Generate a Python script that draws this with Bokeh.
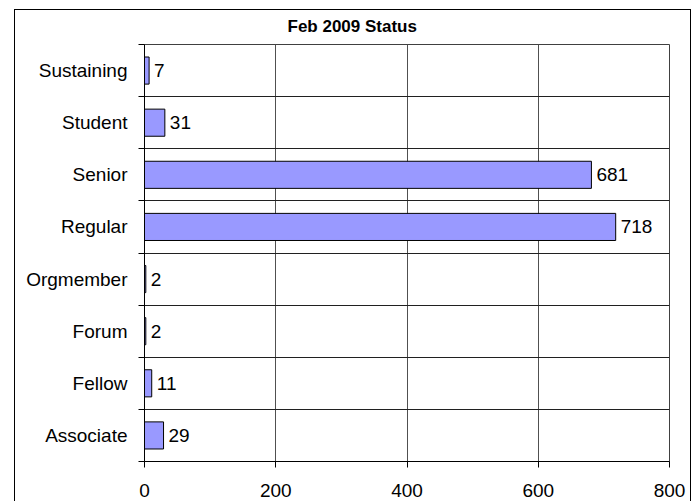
from bokeh.plotting import figure
from bokeh.models import Range1d, FixedTicker, ColumnDataSource
from bokeh.core.properties import value
from bokeh.embed import file_html
from bokeh.resources import INLINE

title_text = "Feb 2009 Status"
categories = ["Associate", "Fellow", "Forum", "Orgmember", "Regular", "Senior", "Student", "Sustaining"]
counts = [29, 11, 2, 2, 718, 681, 31, 7]
x_ticks = [0, 200, 400, 600, 800]

pos = [i + 0.5 for i in range(len(categories))]
src = ColumnDataSource(dict(y=pos, v=counts, lbl=[str(c) for c in counts]))

FONT = "Liberation Sans"

p = figure(width=692, height=501, output_backend="svg", toolbar_location=None,
           x_range=Range1d(0, 800), y_range=Range1d(0, len(categories)),
           min_border_left=144, min_border_right=23, min_border_top=44, min_border_bottom=40)
p.styles = {
    "background-color": "white",
    "background-image": "linear-gradient(black, black), linear-gradient(black, black), linear-gradient(black, black)",
    "background-position": "14px 9px, 14px 9px, 690px 9px",
    "background-size": "677px 1px, 1px 492px, 1px 492px",
    "background-repeat": "no-repeat",
}

p.title.text = title_text
p.title.align = "left"
p.title.offset = 143
p.title.text_font = FONT
p.title.text_font_size = "17px"
p.title.text_font_style = "bold"
p.title.text_color = "black"
p.title.standoff = 17

p.hbar(y="y", right="v", left=0, height=0.52, source=src,
       fill_color="#9999FF", line_color="black", line_width=1)
p.text(x="v", y="y", text="lbl", source=src, x_offset=5,
       text_font=value(FONT), text_font_size="19px", text_baseline="middle",
       text_align="left", text_color="black")

xa = p.xaxis[0]
xa.ticker = FixedTicker(ticks=x_ticks)
xa.major_tick_out = 6
xa.major_tick_in = 0
xa.minor_tick_out = 0
xa.minor_tick_in = 0
xa.axis_line_color = "black"
xa.major_tick_line_color = "black"
xa.major_label_text_font = FONT
xa.major_label_text_font_size = "19px"
xa.major_label_text_color = "black"
xa.major_label_standoff = 16

ya = p.yaxis[0]
ya.ticker = FixedTicker(ticks=pos, minor_ticks=list(range(len(categories) + 1)))
ya.major_label_overrides = {p_: c for p_, c in zip(pos, categories)}
ya.major_tick_out = 0
ya.major_tick_in = 0
ya.minor_tick_out = 6
ya.minor_tick_in = 0
ya.minor_tick_line_color = "black"
ya.axis_line_color = "black"
ya.major_label_text_font = FONT
ya.major_label_text_font_size = "19px"
ya.major_label_text_color = "black"
ya.major_label_standoff = 11

p.xgrid.ticker = FixedTicker(ticks=x_ticks)
p.xgrid.grid_line_color = "#505050"
p.ygrid.ticker = FixedTicker(ticks=list(range(len(categories) + 1)))
p.ygrid.grid_line_color = "#202020"
p.outline_line_color = "#404040"
p.background_fill_color = "white"
p.border_fill_color = None

open("out.html", "w").write(file_html(p, INLINE))
